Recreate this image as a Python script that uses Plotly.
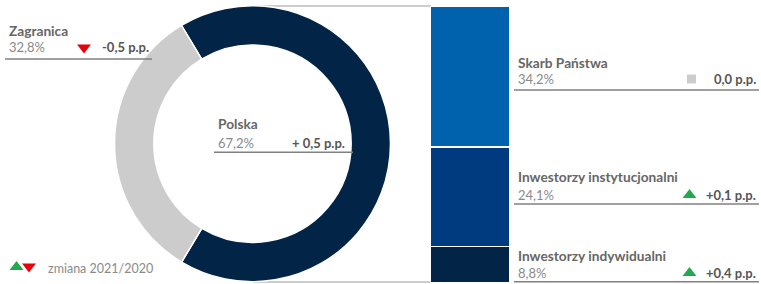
import plotly.graph_objects as go

W, H = 761, 284

# ---- data ----
donut_labels = ["Polska", "Zagranica"]
donut_values = [67.2, 32.8]
donut_changes = [0.5, -0.5]
donut_change_text = ["+ 0,5 p.p.", "-0,5 p.p."]
donut_value_text = ["67,2%", "32,8%"]

bar_labels = ["Skarb Państwa", "Inwestorzy instytucjonalni", "Inwestorzy indywidualni"]
bar_values = [34.2, 24.1, 8.8]
bar_changes = [0.0, 0.1, 0.4]
bar_value_text = ["34,2%", "24,1%", "8,8%"]
bar_change_text = ["0,0 p.p.", "+0,1 p.p.", "+0,4 p.p."]

legend_text = "zmiana 2021/2020"

# ---- styles ----
NAVY = "#022447"
GREY = "#cccccc"
BAR_COLORS = ["#0061ac", "#003a7f", "#022447"]
TITLE_C = "#666666"
VALUE_C = "#8a8a8a"
CHG_C = "#555555"
LINE_C = "#808080"
UP_C = "#22a94b"
DOWN_C = "#e8000b"
FONT = "Lato"


def px(x):
    return x / W


def py(y):
    return 1 - y / H


fig = go.Figure()

# donut
fig.add_trace(go.Pie(
    labels=donut_labels, values=donut_values, hole=0.715, sort=False,
    direction="clockwise", rotation=-31,
    marker=dict(colors=[NAVY, GREY], line=dict(color="white", width=1.5)),
    textinfo="none", hoverinfo="label+percent", showlegend=False,
    domain=dict(x=[px(114.5), px(390.5)], y=[py(281.7), py(5.7)]),
))

# stacked bar (bottom to top)
for lab, val, col in reversed(list(zip(bar_labels, bar_values, BAR_COLORS))):
    fig.add_trace(go.Bar(
        x=["Polska"], y=[val], name=lab, width=1,
        marker=dict(color=col, line=dict(color="white", width=1.5)),
        showlegend=False, xaxis="x", yaxis="y",
    ))

fig.update_layout(
    barmode="stack",
    xaxis=dict(domain=[px(430.5), px(510)], range=[-0.5, 0.5], visible=False, fixedrange=True),
    yaxis=dict(domain=[py(283), py(6)], range=[0, sum(bar_values)], visible=False, fixedrange=True),
    xaxis2=dict(domain=[0, 1], range=[0, W], visible=False, fixedrange=True),
    yaxis2=dict(domain=[0, 1], range=[H, 0], visible=False, fixedrange=True, anchor="x2"),
)

shapes = []
annotations = []


def ann(x, y, text, anchor, color, size=13):
    annotations.append(dict(x=px(x), y=py(y), xref="paper", yref="paper", text=text, xanchor=anchor,
                            yanchor="middle", showarrow=False, font=dict(family=FONT, size=size, color=color)))


def block(x0, x1, y_title, y_val, y_line, title, vtxt, ctxt, mx):
    ann(x0, y_title, "<b>%s</b>" % title, "left", TITLE_C, 13.7)
    ann(x0, y_val, vtxt, "left", VALUE_C)
    ann(x1, y_val, "<b>%s</b>" % ctxt, "right", CHG_C)
    shapes.append(dict(type="line", xref="paper", yref="paper", x0=px(x0 - 2), x1=px(mx),
                       y0=py(y_line), y1=py(y_line), line=dict(color=LINE_C, width=1.5)))


def symbol_for(ch):
    if ch > 0:
        return "triangle-up", UP_C, 12
    if ch < 0:
        return "triangle-down", DOWN_C, 12
    return "square", GREY, 9


# left/center blocks for donut
block(7, 151, 31, 47, 59, "Zagranica", donut_value_text[1], donut_change_text[1], 152)
block(216, 347, 124, 142.5, 152.3, "Polska", donut_value_text[0], donut_change_text[0], 353)

# right blocks for bars
ys = [(62.5, 79, 90), (176.5, 195, 204), (255, 273, 281.7)]
for (yt, yv, yl), lab, vt, ct in zip(ys, bar_labels, bar_value_text, bar_change_text):
    block(516, 758, yt, yv, yl, lab, vt, ct, 759)

# change markers
mk_x, mk_y, mk_sym, mk_col, mk_size = [], [], [], [], []
for ch, (x, y) in zip([donut_changes[1]], [(84, 47.5)]):
    s, c, z = symbol_for(ch)
    mk_x.append(x); mk_y.append(y); mk_sym.append(s); mk_col.append(c); mk_size.append(z)
for ch, (yt, yv, yl) in zip(bar_changes, ys):
    s, c, z = symbol_for(ch)
    mk_x.append(689.5 if ch != 0 else 691.5); mk_y.append(yv); mk_sym.append(s); mk_col.append(c); mk_size.append(z)
# legend markers
mk_x += [16.5, 29]; mk_y += [267, 266.5]
mk_sym += ["triangle-up", "triangle-down"]; mk_col += [UP_C, DOWN_C]; mk_size += [12, 12]

fig.add_trace(go.Scatter(x=mk_x, y=mk_y, mode="markers", xaxis="x2", yaxis="y2",
                         marker=dict(symbol=mk_sym, color=mk_col, size=mk_size, opacity=1,
                                     line=dict(width=0)),
                         hoverinfo="skip", showlegend=False))

ann(46, 268.5, legend_text, "left", VALUE_C, 12.5)

# connector lines donut -> bar
for yy in (6, 282):
    shapes.append(dict(type="line", xref="paper", yref="paper", x0=px(252.5), x1=px(431),
                       y0=py(yy), y1=py(yy), line=dict(color="#9a9a9a", width=1), layer="below"))

fig.update_layout(
    width=W, height=H, margin=dict(l=0, r=0, t=0, b=0),
    paper_bgcolor="white", plot_bgcolor="rgba(0,0,0,0)",
    shapes=shapes, annotations=annotations, showlegend=False,
)

fig.write_html("out.html", config={"displayModeBar": False},
               post_script="document.body.style.margin='0';document.body.style.overflow='hidden';")
